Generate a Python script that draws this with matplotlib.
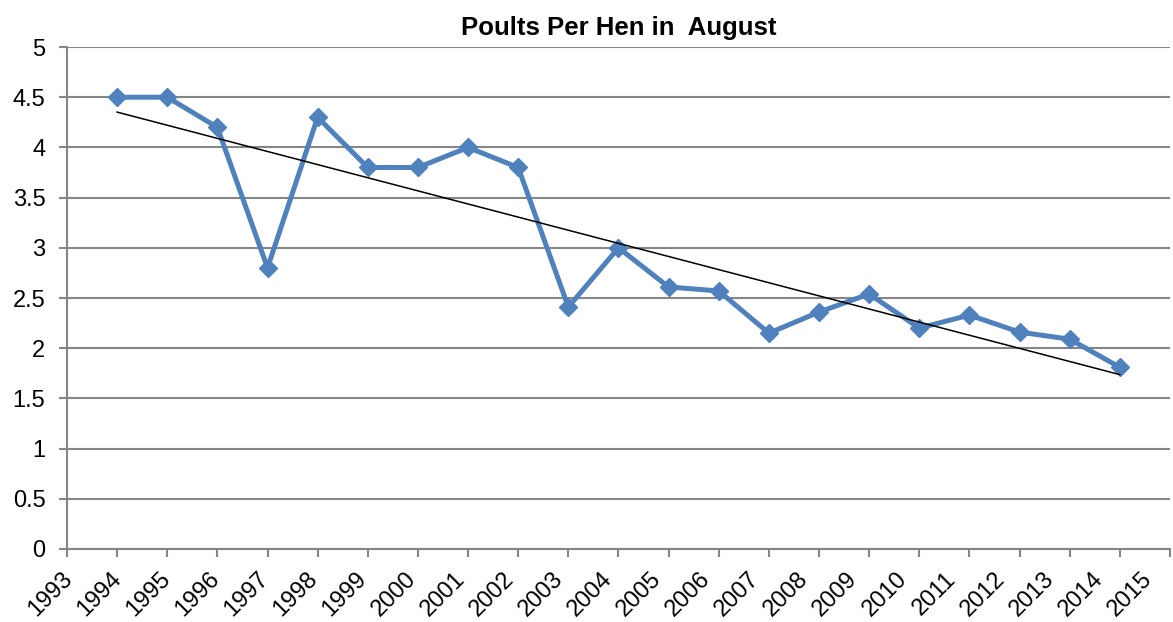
import numpy as np
import matplotlib
matplotlib.use("Agg")
import matplotlib.pyplot as plt
from matplotlib.transforms import offset_copy

# data
years = [1994, 1995, 1996, 1997, 1998, 1999, 2000, 2001, 2002, 2003, 2004,
         2005, 2006, 2007, 2008, 2009, 2010, 2011, 2012, 2013, 2014]
poults = [4.5, 4.5, 4.2, 2.8, 4.3, 3.8, 3.8, 4.0, 3.8, 2.41, 3.0,
          2.61, 2.57, 2.15, 2.36, 2.54, 2.2, 2.33, 2.16, 2.09, 1.81]
x_ticks = list(range(1993, 2016))
y_ticks = [0, 0.5, 1, 1.5, 2, 2.5, 3, 3.5, 4, 4.5, 5]

plt.rcParams["font.family"] = ["Liberation Sans", "DejaVu Sans"]
GRID = "#868686"

fig = plt.figure(figsize=(11.73, 6.22), dpi=100)
ax = fig.add_axes([0.0571, 0.1174, 0.9403, 0.8070])

# linear trendline (least squares, like Excel)
coef = np.polyfit(years, poults, 1)
trend = np.polyval(coef, years)

ax.plot(years, poults, color="#4F81BD", linewidth=3.6, marker="D",
        markersize=9.5, zorder=3)
ax.plot(years, trend, color="black", linewidth=1.1, zorder=4)

ax.set_xlim(1993, 2015)
ax.set_ylim(0, 5)
ax.set_xticks(x_ticks)
ax.set_xticklabels([])
ax.set_yticks(y_ticks)
ax.set_yticklabels([f"{v:g}" for v in y_ticks], fontsize=17)

# rotated year labels; Excel packs them slightly tighter than the ticks,
# so they drift left of their tick going right
n = len(x_ticks) - 1
for i, yr in enumerate(x_ticks):
    dx = -4.3 - 16.6 * i / n
    tr = offset_copy(ax.get_xaxis_transform(), fig=fig,
                     x=dx, y=-13.5, units="points")
    ax.text(yr, 0, str(yr), transform=tr, rotation=45,
            rotation_mode="anchor", ha="right", va="top", fontsize=17,
            clip_on=False)

ax.grid(True, axis="y", color=GRID, linewidth=1.5)
ax.set_axisbelow(True)
for side in ("top", "right"):
    ax.spines[side].set_visible(False)
for side in ("left", "bottom"):
    ax.spines[side].set_color(GRID)
    ax.spines[side].set_linewidth(1.5)
ax.tick_params(axis="both", color=GRID, width=1.5, length=5.5)
ax.tick_params(axis="y", pad=10)

ax.set_title("Poults Per Hen in  August", fontsize=18.5, fontweight="bold",
             pad=9)

fig.savefig("out.png", dpi=100)
